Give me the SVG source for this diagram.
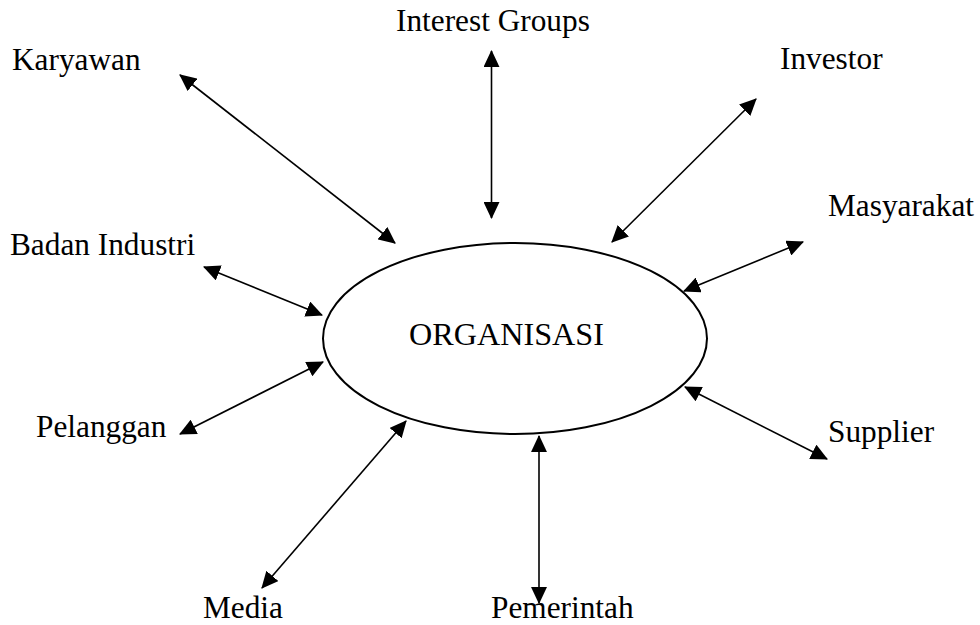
<svg xmlns="http://www.w3.org/2000/svg" width="980" height="625" viewBox="0 0 980 625">
<defs>
<marker id="ah" markerUnits="userSpaceOnUse" markerWidth="17" markerHeight="16" viewBox="0 0 16 15" refX="15" refY="7.5" orient="auto-start-reverse">
<path d="M0,0 L16,7.5 L0,15 z" fill="#000"/>
</marker>
<style>
text{font-family:"Liberation Serif","Times New Roman",serif;font-size:31.3px;fill:#000}
.c line{stroke:#000;stroke-width:1.6;marker-start:url(#ah);marker-end:url(#ah)}
</style>
</defs>
<rect width="980" height="625" fill="#fff"/>
<g id="organisasi">
<ellipse cx="515" cy="338.5" rx="192" ry="95.5" fill="none" stroke="#000" stroke-width="2"/>
<text x="506.5" y="345" text-anchor="middle" style="font-size:32.2px">ORGANISASI</text>
</g>
<g id="karyawan"><text x="12" y="70">Karyawan</text></g>
<g id="interest-groups"><text x="396" y="31">Interest Groups</text></g>
<g id="investor"><text x="780" y="69">Investor</text></g>
<g id="masyarakat"><text x="828" y="216">Masyarakat</text></g>
<g id="badan-industri"><text x="10" y="255">Badan Industri</text></g>
<g id="pelanggan"><text x="36" y="437">Pelanggan</text></g>
<g id="supplier"><text x="828" y="442">Supplier</text></g>
<g id="media"><text x="203" y="618">Media</text></g>
<g id="pemerintah"><text x="491" y="618">Pemerintah</text></g>
<g id="connectors" class="c">
<line x1="180" y1="75" x2="395" y2="243"/>
<line x1="491.5" y1="51" x2="491.5" y2="218"/>
<line x1="756" y1="99" x2="612" y2="242"/>
<line x1="803" y1="242" x2="684" y2="291"/>
<line x1="204" y1="267" x2="322" y2="315"/>
<line x1="180" y1="434" x2="323" y2="362"/>
<line x1="406" y1="421" x2="262" y2="588"/>
<line x1="539" y1="436" x2="539" y2="603"/>
<line x1="685" y1="387" x2="827" y2="459"/>
</g>
</svg>
